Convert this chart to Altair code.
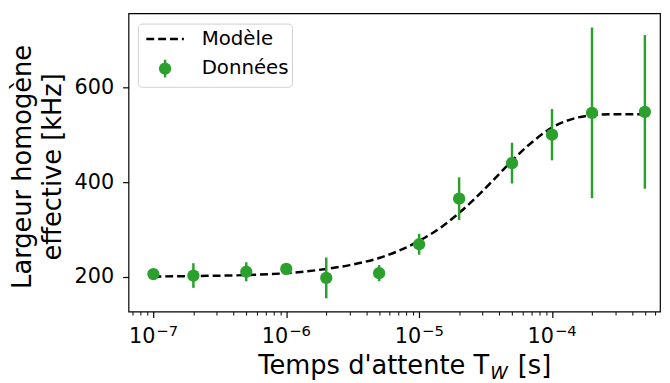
import altair as alt
import pandas as pd

# ---- data ----
t_data = [1e-7, 2e-7, 5e-7, 1e-6, 2e-6, 5e-6, 1e-5, 2e-5, 5e-5, 1e-4, 2e-4, 5e-4]
largeur = [206, 203, 211, 217, 198, 208, 269, 365, 440, 500, 546, 548]
erreur = [6, 26, 20, 6, 43, 17, 22, 45, 43, 54, 180, 162]

t_model = [1e-7, 2e-7, 5e-7, 1e-6, 2e-6, 3e-6, 5e-6, 7e-6, 1e-5, 1.5e-5, 2e-5,
           3e-5, 4e-5, 5e-5, 7e-5, 1e-4, 1.5e-4, 2e-4, 3e-4, 5e-4]
modele = [201, 202, 204, 208, 217, 225, 240, 255, 276, 307, 335,
          381, 417, 445, 483, 515, 535, 541, 543, 543]

major_ticks = [1e-7, 1e-6, 1e-5, 1e-4]
major_base = ["10", "10", "10", "10"]
major_exp = ["\u22127", "\u22126", "\u22125", "\u22124"]
minor_ticks = [7e-8, 8e-8, 9e-8,
               2e-7, 3e-7, 4e-7, 5e-7, 6e-7, 7e-7, 8e-7, 9e-7,
               2e-6, 3e-6, 4e-6, 5e-6, 6e-6, 7e-6, 8e-6, 9e-6,
               2e-5, 3e-5, 4e-5, 5e-5, 6e-5, 7e-5, 8e-5, 9e-5,
               2e-4, 3e-4, 4e-4, 5e-4, 6e-4]
y_ticks = [200, 400, 600]
legend_labels = ["Modèle", "Données"]
x_title = ["Temps d'attente T", "W", "[s]"]
y_title = ["Largeur homogène", "effective [kHz]"]

GREEN = "#2ca02c"
W, H = 538, 302

df_data = pd.DataFrame({"t": t_data, "y": largeur, "err": erreur})
df_data["lo"] = df_data["y"] - df_data["err"]
df_data["hi"] = df_data["y"] + df_data["err"]
df_model = pd.DataFrame({"t": t_model, "y": modele})
df_major = pd.DataFrame({"t": major_ticks, "base": major_base, "exp": major_exp})
df_minor = pd.DataFrame({"t": minor_ticks})
one = pd.DataFrame({"a": [0]})

xs = alt.Scale(type="log", domain=[6.5e-8, 6.5e-4], nice=False)
ys = alt.Scale(domain=[127, 756], nice=False, zero=False)

y_axis = alt.Axis(values=y_ticks, tickSize=6, tickWidth=1.2, tickColor="black",
                  domain=False, grid=False, labelFontSize=21, labelColor="black",
                  labelPadding=9, title=y_title, titleFontSize=26,
                  titleFontWeight="normal", titleColor="black", titleAngle=270,
                  titleAlign="center", titleBaseline="middle", titleX=-107, titleY=155,
                  titleLineHeight=30)

line = alt.Chart(df_model).mark_line(
    color="black", strokeDash=[8, 4], strokeWidth=2.5, interpolate="monotone"
).encode(
    x=alt.X("t:Q", scale=xs, axis=alt.Axis(values=major_ticks, labels=False, tickSize=6,
                                           tickWidth=1.2, tickColor="black", domain=False,
                                           grid=False, title=None, orient="bottom")),
    y=alt.Y("y:Q", scale=ys, axis=y_axis),
)

minor = alt.Chart(df_minor).mark_point(opacity=0).encode(
    x=alt.X("t:Q", scale=xs, axis=alt.Axis(values=minor_ticks, labels=False, tickSize=3.5,
                                           tickWidth=1, tickColor="black", domain=False,
                                           grid=False, title=None, orient="bottom")),
    y=alt.value(H),
)

bars = alt.Chart(df_data).mark_rule(color=GREEN, strokeWidth=2.5).encode(
    x=alt.X("t:Q", scale=xs, axis=None),
    y=alt.Y("lo:Q", scale=ys, axis=y_axis),
    y2="hi:Q",
)
pts = alt.Chart(df_data).mark_circle(color=GREEN, size=155, opacity=1).encode(
    x=alt.X("t:Q", scale=xs, axis=None),
    y=alt.Y("y:Q", scale=ys, axis=y_axis),
)

lab10 = alt.Chart(df_major).mark_text(align="right", baseline="alphabetic", fontSize=21,
                                       dx=2, color="black").encode(
    x=alt.X("t:Q", scale=xs, axis=None), y=alt.value(H + 32), text="base:N")
labexp = alt.Chart(df_major).mark_text(align="left", baseline="alphabetic", fontSize=15,
                                        dx=3, color="black").encode(
    x=alt.X("t:Q", scale=xs, axis=None), y=alt.value(H + 25), text="exp:N")

# x-axis title with subscript
xt1 = alt.Chart(one).mark_text(align="right", baseline="alphabetic", fontSize=26,
                               color="black", text=x_title[0]).encode(
    x=alt.value(365), y=alt.value(H + 63))
xt2 = alt.Chart(one).mark_text(align="center", baseline="alphabetic", fontSize=18,
                               fontStyle="italic", color="black", text=x_title[1]).encode(
    x=alt.value(375), y=alt.value(H + 68))
xt3 = alt.Chart(one).mark_text(align="left", baseline="alphabetic", fontSize=26,
                               color="black", text=x_title[2]).encode(
    x=alt.value(394), y=alt.value(H + 63))

# legend
lbox = alt.Chart(one).mark_rect(fill="white", stroke="#cccccc", strokeWidth=1,
                                cornerRadius=4, opacity=0.9).encode(
    x=alt.value(10), x2=alt.value(166), y=alt.value(11), y2=alt.value(75))
lline = alt.Chart(one).mark_rule(color="black", strokeDash=[8, 4], strokeWidth=2.5).encode(
    x=alt.value(18), x2=alt.value(56), y=alt.value(26))
lbar = alt.Chart(one).mark_rule(color=GREEN, strokeWidth=2.5).encode(
    x=alt.value(37), y=alt.value(47), y2=alt.value(65))
lpt = alt.Chart(one).mark_circle(color=GREEN, size=155, opacity=1).encode(
    x=alt.value(37), y=alt.value(56))
ltxt1 = alt.Chart(one).mark_text(align="left", baseline="middle", fontSize=20,
                                 color="black", text=legend_labels[0]).encode(
    x=alt.value(74), y=alt.value(26))
ltxt2 = alt.Chart(one).mark_text(align="left", baseline="middle", fontSize=20,
                                 color="black", text=legend_labels[1]).encode(
    x=alt.value(74), y=alt.value(56))

chart = alt.layer(
    line, minor, bars, pts, lab10, labexp, xt1, xt2, xt3,
    lbox, lline, lbar, lpt, ltxt1, ltxt2
).resolve_axis(x="independent").properties(
    width=W, height=H,
    autosize=alt.AutoSizeParams(type="none"),
    padding={"left": 122, "top": 3, "right": 2, "bottom": 72},
).configure(font="DejaVu Sans").configure_view(stroke="black", strokeWidth=1.2)

chart.save("out.html", embed_options={"renderer": "svg", "actions": False})
